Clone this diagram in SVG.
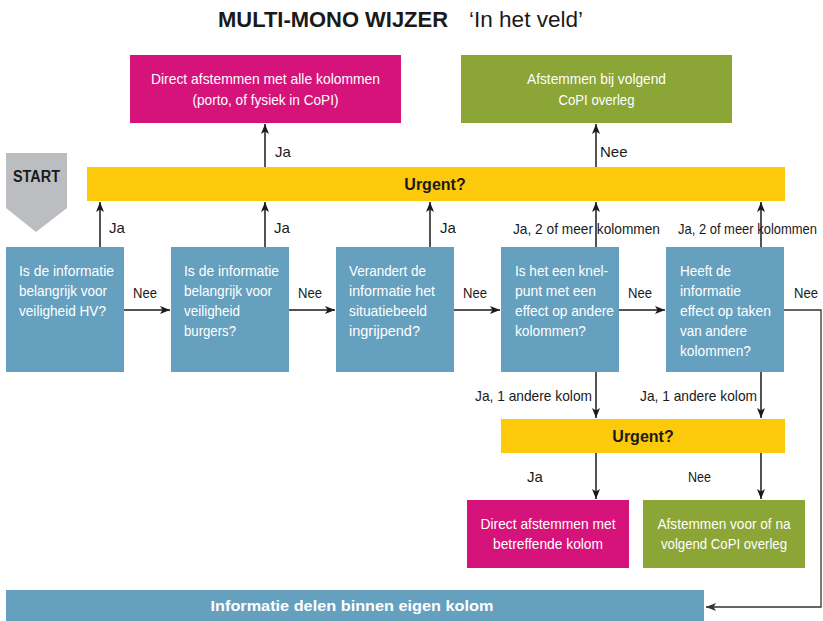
<svg xmlns="http://www.w3.org/2000/svg" width="823" height="621" viewBox="0 0 823 621">
<style>
.t{font-family:"Liberation Sans Narrow","Liberation Sans",Arial,sans-serif;font-size:15px;fill:#ffffff}
.l{font-family:"Liberation Sans Narrow","Liberation Sans",Arial,sans-serif;font-size:15px;fill:#1a1a1a}
.b{font-family:"Liberation Sans",Arial,sans-serif;font-weight:bold;fill:#1a1a1a}
.q{fill:#66a0bf}
.p{fill:#d6137b}
.g{fill:#8ba537}
.y{fill:#fcc90b}
.c{stroke:#1a1a1a;stroke-width:1.5;fill:none}
</style>
<defs>
<marker id="ah" viewBox="0 0 10 8" refX="10" refY="4" markerWidth="10" markerHeight="8" orient="auto" markerUnits="userSpaceOnUse"><path d="M0,0 L10,4 L0,8 L2.5,4 z" fill="#1a1a1a"/></marker>
<marker id="ah2" viewBox="0 0 10 8" refX="10" refY="4" markerWidth="10" markerHeight="8" orient="auto" markerUnits="userSpaceOnUse"><path d="M0,0 L10,4 L0,8 L2.5,4 z" fill="#333"/></marker>
</defs>

<g id="title">
<text class="b" x="218" y="27" font-size="22" textLength="230" lengthAdjust="spacingAndGlyphs">MULTI-MONO WIJZER</text>
<text x="469" y="27" font-family="Liberation Sans,Arial,sans-serif" font-size="22" fill="#1a1a1a" textLength="114" lengthAdjust="spacingAndGlyphs">‘In het veld’</text>
</g>

<g id="connectors">
<line class="c" x1="265" y1="167" x2="265" y2="124" marker-end="url(#ah)"/>
<line class="c" x1="596" y1="167" x2="596" y2="124" marker-end="url(#ah)"/>
<line class="c" x1="100" y1="247" x2="100" y2="202" marker-end="url(#ah)"/>
<line class="c" x1="265" y1="247" x2="265" y2="202" marker-end="url(#ah)"/>
<line class="c" x1="430" y1="247" x2="430" y2="202" marker-end="url(#ah)"/>
<line class="c" x1="596" y1="247" x2="596" y2="202" marker-end="url(#ah)"/>
<line class="c" x1="761" y1="247" x2="761" y2="202" marker-end="url(#ah)"/>
<line class="c" x1="124" y1="310" x2="170" y2="310" marker-end="url(#ah)"/>
<line class="c" x1="289" y1="310" x2="335" y2="310" marker-end="url(#ah)"/>
<line class="c" x1="454" y1="310" x2="500" y2="310" marker-end="url(#ah)"/>
<line class="c" x1="619" y1="310" x2="665" y2="310" marker-end="url(#ah)"/>
<line class="c" x1="596" y1="372" x2="596" y2="418" marker-end="url(#ah)"/>
<line class="c" x1="761" y1="372" x2="761" y2="418" marker-end="url(#ah)"/>
<line class="c" x1="596" y1="453" x2="596" y2="499" marker-end="url(#ah)"/>
<line class="c" x1="761" y1="453" x2="761" y2="499" marker-end="url(#ah)"/>
<polyline points="784,310 821,310 821,607 706,607" fill="none" stroke="#333" stroke-width="1.3" marker-end="url(#ah2)"/>
<text class="l" x="275" y="157">Ja</text>
<text class="l" x="600" y="157">Nee</text>
<text class="l" x="109" y="233">Ja</text>
<text class="l" x="274" y="233">Ja</text>
<text class="l" x="440" y="233">Ja</text>
<text class="l" x="513" y="234" textLength="147" lengthAdjust="spacingAndGlyphs">Ja, 2 of meer kolommen</text>
<text class="l" x="678" y="234" font-size="13" textLength="139" lengthAdjust="spacingAndGlyphs">Ja, 2 of meer kolommen</text>
<text class="l" x="133" y="298" textLength="24" lengthAdjust="spacingAndGlyphs">Nee</text>
<text class="l" x="298" y="298" textLength="24" lengthAdjust="spacingAndGlyphs">Nee</text>
<text class="l" x="463" y="298" textLength="24" lengthAdjust="spacingAndGlyphs">Nee</text>
<text class="l" x="628" y="298" textLength="24" lengthAdjust="spacingAndGlyphs">Nee</text>
<text class="l" x="794" y="298" textLength="24" lengthAdjust="spacingAndGlyphs">Nee</text>
<text class="l" x="475" y="401" textLength="117" lengthAdjust="spacingAndGlyphs">Ja, 1 andere kolom</text>
<text class="l" x="640" y="401" textLength="117" lengthAdjust="spacingAndGlyphs">Ja, 1 andere kolom</text>
<text class="l" x="527" y="482">Ja</text>
<text class="l" x="688" y="482" textLength="23" lengthAdjust="spacingAndGlyphs">Nee</text>
</g>

<g id="start">
<polygon points="6,153 67,153 67,208 36,232 6,208" fill="#bbbdc0"/>
<text class="b" x="13" y="182" font-size="16" textLength="47" lengthAdjust="spacingAndGlyphs">START</text>
</g>

<g id="urgent1">
<rect class="y" x="87" y="167" width="698" height="34"/>
<text class="b" x="435" y="190" font-size="16" text-anchor="middle">Urgent?</text>
</g>

<g id="direct-alle">
<rect class="p" x="130" y="55" width="271" height="68"/>
<text class="t" x="265.5" y="84" text-anchor="middle" textLength="229" lengthAdjust="spacingAndGlyphs">Direct afstemmen met alle kolommen</text>
<text class="t" x="265.5" y="105" text-anchor="middle" textLength="146" lengthAdjust="spacingAndGlyphs">(porto, of fysiek in CoPI)</text>
</g>

<g id="afstemmen-volgend">
<rect class="g" x="461" y="55" width="271" height="68"/>
<text class="t" x="596.5" y="84" text-anchor="middle" textLength="139" lengthAdjust="spacingAndGlyphs">Afstemmen bij volgend</text>
<text class="t" x="596.5" y="105" text-anchor="middle" textLength="76" lengthAdjust="spacingAndGlyphs">CoPI overleg</text>
</g>

<g id="q1">
<rect class="q" x="6" y="247" width="118" height="125"/>
<text class="t" x="19" y="276" textLength="95" lengthAdjust="spacingAndGlyphs">Is de informatie</text>
<text class="t" x="19" y="296" textLength="88" lengthAdjust="spacingAndGlyphs">belangrijk voor</text>
<text class="t" x="19" y="316" textLength="87" lengthAdjust="spacingAndGlyphs">veiligheid HV?</text>
</g>

<g id="q2">
<rect class="q" x="171" y="247" width="118" height="125"/>
<text class="t" x="184" y="276" textLength="95" lengthAdjust="spacingAndGlyphs">Is de informatie</text>
<text class="t" x="184" y="296" textLength="88" lengthAdjust="spacingAndGlyphs">belangrijk voor</text>
<text class="t" x="184" y="316" textLength="56" lengthAdjust="spacingAndGlyphs">veiligheid</text>
<text class="t" x="184" y="336" textLength="52" lengthAdjust="spacingAndGlyphs">burgers?</text>
</g>

<g id="q3">
<rect class="q" x="336" y="247" width="118" height="125"/>
<text class="t" x="349" y="276" textLength="77" lengthAdjust="spacingAndGlyphs">Verandert de</text>
<text class="t" x="349" y="296" textLength="86" lengthAdjust="spacingAndGlyphs">informatie het</text>
<text class="t" x="349" y="316" textLength="78" lengthAdjust="spacingAndGlyphs">situatiebeeld</text>
<text class="t" x="349" y="336" textLength="71" lengthAdjust="spacingAndGlyphs">ingrijpend?</text>
</g>

<g id="q4">
<rect class="q" x="501" y="247" width="118" height="125"/>
<text class="t" x="515" y="276" textLength="93" lengthAdjust="spacingAndGlyphs">Is het een knel-</text>
<text class="t" x="515" y="296" textLength="81" lengthAdjust="spacingAndGlyphs">punt met een</text>
<text class="t" x="515" y="316" textLength="99" lengthAdjust="spacingAndGlyphs">effect op andere</text>
<text class="t" x="515" y="336" textLength="71" lengthAdjust="spacingAndGlyphs">kolommen?</text>
</g>

<g id="q5">
<rect class="q" x="666" y="247" width="118" height="125"/>
<text class="t" x="680" y="276" textLength="51" lengthAdjust="spacingAndGlyphs">Heeft de</text>
<text class="t" x="680" y="296" textLength="61" lengthAdjust="spacingAndGlyphs">informatie</text>
<text class="t" x="680" y="316" textLength="91" lengthAdjust="spacingAndGlyphs">effect op taken</text>
<text class="t" x="680" y="336" textLength="67" lengthAdjust="spacingAndGlyphs">van andere</text>
<text class="t" x="680" y="356" textLength="71" lengthAdjust="spacingAndGlyphs">kolommen?</text>
</g>

<g id="urgent2">
<rect class="y" x="501" y="419" width="284" height="34"/>
<text class="b" x="643" y="442" font-size="16" text-anchor="middle">Urgent?</text>
</g>

<g id="direct-betreffende">
<rect class="p" x="467" y="500" width="162" height="68"/>
<text class="t" x="548" y="529" text-anchor="middle" textLength="135" lengthAdjust="spacingAndGlyphs">Direct afstemmen met</text>
<text class="t" x="548" y="549" text-anchor="middle" textLength="110" lengthAdjust="spacingAndGlyphs">betreffende kolom</text>
</g>

<g id="afstemmen-voor-na">
<rect class="g" x="643" y="500" width="162" height="68"/>
<text class="t" x="724" y="529" text-anchor="middle" textLength="133" lengthAdjust="spacingAndGlyphs">Afstemmen voor of na</text>
<text class="t" x="724" y="549" text-anchor="middle" textLength="126" lengthAdjust="spacingAndGlyphs">volgend CoPI overleg</text>
</g>

<g id="eigen-kolom">
<rect class="q" x="6" y="590" width="698" height="31"/>
<text x="352" y="611" text-anchor="middle" font-family="Liberation Sans Narrow,Liberation Sans,Arial,sans-serif" font-weight="bold" font-size="15" fill="#ffffff" textLength="283" lengthAdjust="spacingAndGlyphs">Informatie delen binnen eigen kolom</text>
</g>
</svg>
